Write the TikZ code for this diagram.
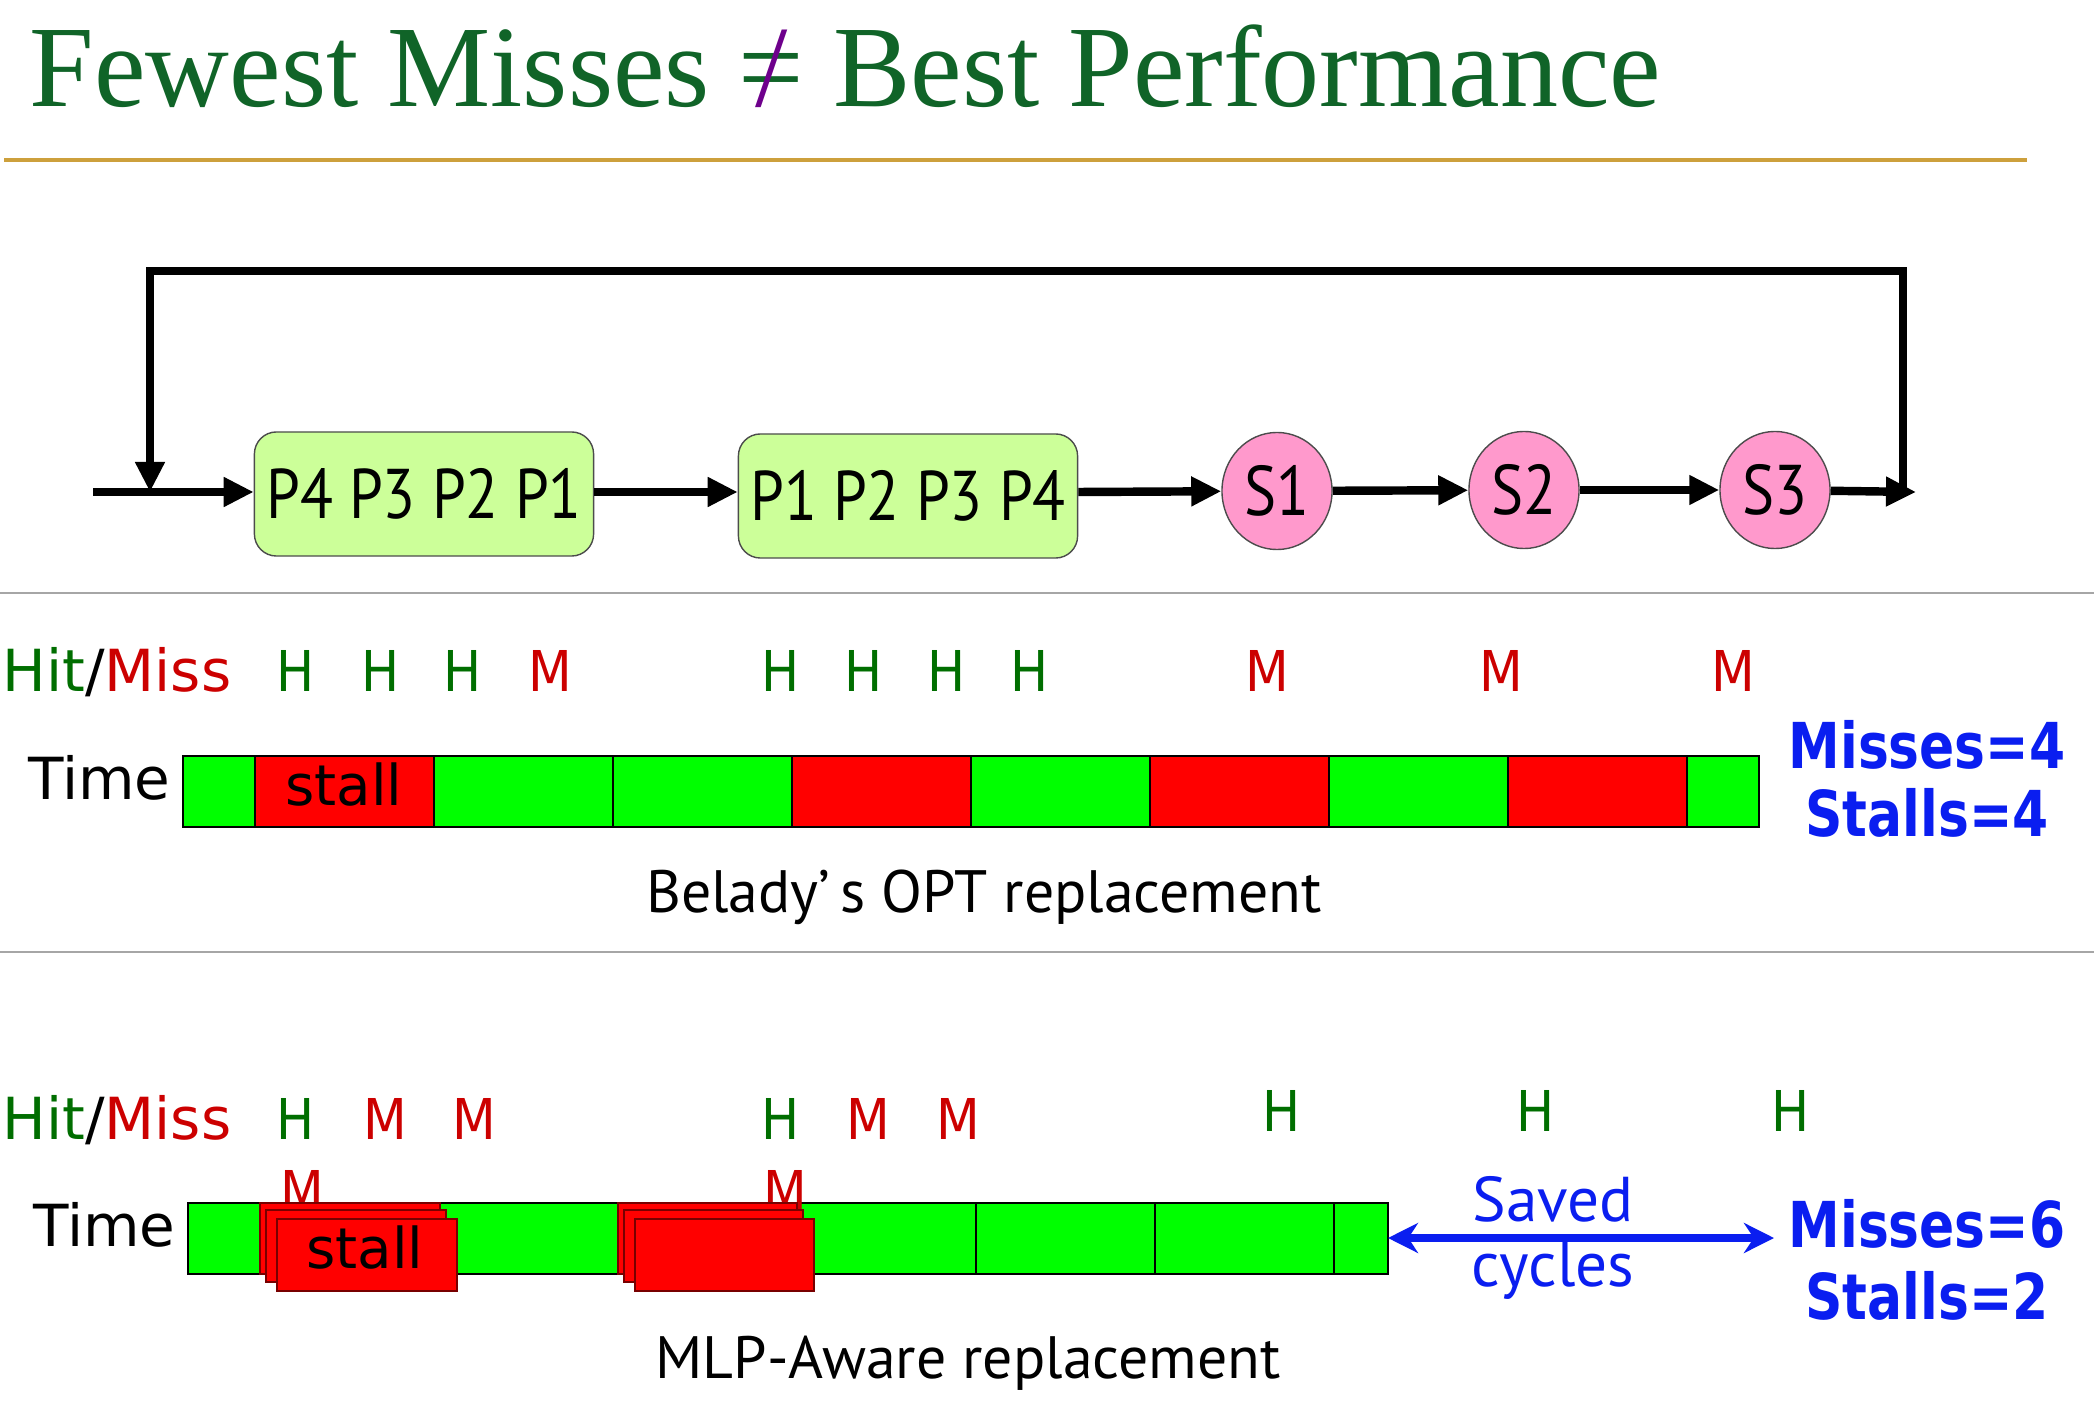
\documentclass[tikz,border=0pt]{standalone}
\usepackage{fontspec}
\setmainfont{PT Sans}
\newfontfamily\titlefont{Liberation Serif}
\newfontfamily\pfont[FakeStretch=0.86]{PT Sans}
\newfontfamily\labelfont{DejaVu Sans}
\newfontfamily\hmfont[FakeStretch=0.9]{DejaVu Sans}
\newfontfamily\statfont[FakeStretch=0.82]{DejaVu Sans}
\usetikzlibrary{arrows.meta, shapes.geometric}

\definecolor{titlegreen}{RGB}{16,100,40}
\definecolor{rulegold}{RGB}{205,160,60}
\definecolor{boxgreen}{RGB}{204,255,153}
\definecolor{nodepink}{RGB}{255,153,204}
\definecolor{hitgreen}{RGB}{0,110,0}
\definecolor{missred}{RGB}{204,0,0}
\definecolor{bargreen}{RGB}{0,255,0}
\definecolor{barred}{RGB}{255,0,0}
\definecolor{stallborder}{RGB}{120,0,0}
\definecolor{statblue}{RGB}{10,30,240}
\definecolor{neqpurple}{RGB}{110,0,140}

\newcommand{\neqmark}{\ooalign{=\cr\hidewidth\textcolor{neqpurple}{/}\hidewidth\cr}}

\tikzset{
    flow/.style={black, line width=2.4pt, -{Triangle[length=0.3cm,width=0.28cm]}},
    pbox/.style={draw=black!70, fill=boxgreen, rounded corners=0.22cm, inner sep=1pt, minimum width=3.39cm, minimum height=1.24cm, font=\pfont\fontsize{20}{24}\selectfont},
    snode/.style={ellipse, draw=black!70, fill=nodepink, minimum width=1.1cm, minimum height=1.17cm, inner sep=0pt, font=\pfont\fontsize{20}{24}\selectfont},
    hit/.style={anchor=base, text=hitgreen, font=\hmfont\fontsize{16}{19}\selectfont},
    miss/.style={anchor=base, text=missred, font=\hmfont\fontsize{16}{19}\selectfont},
    seg/.style={draw=black, line width=0.6pt},
    stackbox/.style={fill=barred, draw=stallborder, line width=0.6pt},
    stat/.style={anchor=base, text=statblue, font=\statfont\bfseries\fontsize{18}{22}\selectfont},
    caption/.style={anchor=base, font=\fontsize{17}{20}\selectfont},
    hmlabel/.style={anchor=base west, inner sep=0pt, font=\labelfont\fontsize{16.5}{20}\selectfont},
    timelabel/.style={anchor=base east, inner sep=0pt, font=\labelfont\fontsize{16.5}{20}\selectfont},
    stalltext/.style={anchor=base, font=\labelfont\fontsize{16}{19}\selectfont}
}

\begin{document}
\begin{tikzpicture}[x=0.01cm, y=-0.01cm]
                \useasboundingbox (0,0) rectangle (2094,1422);
                % title and rule
                \node[anchor=base west, inner sep=0pt, text=titlegreen, font=\titlefont\fontsize{33}{40}\selectfont] (title) at (29,107) {Fewest Misses \neqmark\ Best Performance};
                \draw[rulegold, line width=1.4pt] (4,160) -- (2027,160);

                % access stream
                \coordinate (start) at (93,492);
                \coordinate (join) at (150,492);
                \coordinate (top) at (150,271);
                \coordinate (turn) at (1903,492);
                \coordinate (out) at (1916,492);
                \node[pbox] (pold) at (424,494) {P4 P3 P2 P1};
                \node[pbox] (pnew) at (908,496) {P1 P2 P3 P4};
                \node[snode] (s1) at (1277,491) {S1};
                \node[snode] (s2) at (1524,490) {S2};
                \node[snode] (s3) at (1775,490) {S3};
                \draw[flow] (start) -- (pold.west |- start);
                \draw[flow] (pold.east |- start) -- (pnew.west |- start);
                \draw[flow] (pnew.east |- start) -- (s1);
                \draw[flow] (s1) -- (s2);
                \draw[flow] (s2) -- (s3);
                \draw[flow] (s3) -- (out);
                \draw[flow] (turn) |- (top) -- (join);

                \draw[gray!70, line width=0.8pt] (0,593) -- (2094,593);
                \draw[gray!70, line width=0.8pt] (0,952) -- (2094,952);

                % Belady's OPT
                \node[hmlabel] (hma) at (2,692) {\textcolor{hitgreen}{Hit}/\textcolor{missred}{Miss}};
                \node[hit] (ha1) at (296,692) {H};
                \node[hit] (ha2) at (381,692) {H};
                \node[hit] (ha3) at (463,692) {H};
                \node[miss] (ma4) at (550,692) {M};
                \node[hit] (ha5) at (781,692) {H};
                \node[hit] (ha6) at (864,692) {H};
                \node[hit] (ha7) at (947,692) {H};
                \node[hit] (ha8) at (1030,692) {H};
                \node[miss] (ma9) at (1267,692) {M};
                \node[miss] (ma10) at (1501,692) {M};
                \node[miss] (ma11) at (1733,692) {M};

                \node[timelabel] (timea) at (171,799) {Time};
                \filldraw[seg, fill=bargreen] (183,756) rectangle (255,827);
                \filldraw[seg, fill=barred] (255,756) rectangle (434,827);
                \filldraw[seg, fill=bargreen] (434,756) rectangle (613,827);
                \filldraw[seg, fill=bargreen] (613,756) rectangle (792,827);
                \filldraw[seg, fill=barred] (792,756) rectangle (971,827);
                \filldraw[seg, fill=bargreen] (971,756) rectangle (1150,827);
                \filldraw[seg, fill=barred] (1150,756) rectangle (1329,827);
                \filldraw[seg, fill=bargreen] (1329,756) rectangle (1508,827);
                \filldraw[seg, fill=barred] (1508,756) rectangle (1687,827);
                \filldraw[seg, fill=bargreen] (1687,756) rectangle (1759,827);
                \node[stalltext] (stalla) at (344,805) {stall};
                \node[caption] (opt) at (984,912) {Belady’\,s OPT replacement};
                \node[stat] (missesa) at (1927,768) {Misses=4};
                \node[stat] (stallsa) at (1927,837) {Stalls=4};

                % MLP-aware
                \node[hmlabel] (hmb) at (2,1139) {\textcolor{hitgreen}{Hit}/\textcolor{missred}{Miss}};
                \node[hit] (hb1) at (296,1139) {H};
                \node[miss] (mb2) at (385,1139) {M};
                \node[miss] (mb3) at (474,1139) {M};
                \node[hit] (hb4) at (781,1139) {H};
                \node[miss] (mb5) at (868,1139) {M};
                \node[miss] (mb6) at (958,1139) {M};
                \node[hit] (hb7) at (1282,1131) {H};
                \node[hit] (hb8) at (1536,1131) {H};
                \node[hit] (hb9) at (1791,1131) {H};

                \node[timelabel] (timeb) at (176,1246) {Time};
                \filldraw[seg, fill=bargreen] (188,1203) rectangle (260,1274);
                \filldraw[seg, fill=bargreen] (440,1203) rectangle (618,1274);
                \filldraw[seg, fill=bargreen] (797,1203) rectangle (976,1274);
                \filldraw[seg, fill=bargreen] (976,1203) rectangle (1155,1274);
                \filldraw[seg, fill=bargreen] (1155,1203) rectangle (1334,1274);
                \filldraw[seg, fill=bargreen] (1334,1203) rectangle (1388,1274);
                \node[miss] (mc1) at (302,1211) {M};
                \node[miss] (mc2) at (785,1211) {M};
                \filldraw[stackbox] (260,1203) rectangle (440,1274);
                \filldraw[stackbox] (266,1210) rectangle (446,1282);
                \filldraw[stackbox] (277,1219) rectangle (457,1291);
                \filldraw[stackbox] (618,1203) rectangle (797,1274);
                \filldraw[stackbox] (624,1210) rectangle (803,1282);
                \filldraw[stackbox] (635,1219) rectangle (814,1291);
                \node[stalltext] (stallb) at (365,1268) {stall};

                \coordinate (barend) at (1388,1238);
                \coordinate (gap) at (1774,1238);
                \draw[statblue, line width=2pt, {Stealth[length=0.3cm,width=0.3cm]}-{Stealth[length=0.3cm,width=0.3cm]}] (barend) -- (gap);
                \node[anchor=base, text=statblue, font=\fontsize{18}{22}\selectfont] (saved) at (1553,1221) {Saved};
                \node[anchor=base, text=statblue, font=\fontsize{18}{22}\selectfont] (cycles) at (1553,1286) {cycles};
                \node[caption] (mlp) at (968,1378) {MLP-Aware replacement};
                \node[stat] (missesb) at (1927,1247) {Misses=6};
                \node[stat] (stallsb) at (1927,1319) {Stalls=2};

            \end{tikzpicture}
\end{document}
